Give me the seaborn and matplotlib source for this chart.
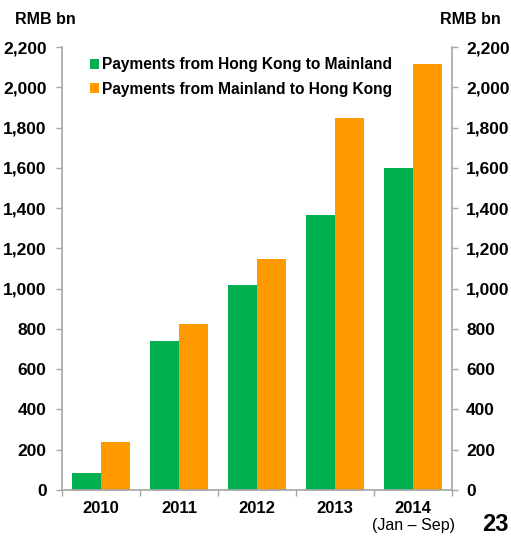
import matplotlib
matplotlib.use("Agg")
import matplotlib.pyplot as plt
import matplotlib.ticker as mticker
from matplotlib.patches import Patch
from matplotlib.transforms import blended_transform_factory
import seaborn as sns
import pandas as pd
import numpy as np

years = ["2010", "2011", "2012", "2013", "2014"]
hk_to_ml = [85, 740, 1020, 1365, 1600]
ml_to_hk = [240, 825, 1145, 1850, 2115]
series = ["Payments from Hong Kong to Mainland", "Payments from Mainland to Hong Kong"]
colors = ["#00B050", "#FF9900"]
yticks = list(range(0, 2201, 200))

df = pd.DataFrame({
    "year": years * 2,
    "value": hk_to_ml + ml_to_hk,
    "series": [series[0]] * len(years) + [series[1]] * len(years),
})

sns.set_theme(style="white")
plt.rcParams["font.family"] = ["Liberation Sans", "DejaVu Sans"]
plt.rcParams["text.color"] = "black"
plt.rcParams["xtick.labelcolor"] = "black"
plt.rcParams["ytick.labelcolor"] = "black"

fig = plt.figure(figsize=(5.11, 5.36), dpi=100)
ax = fig.add_axes([0.121, 0.086, 0.764, 0.826])

sns.barplot(data=df, x="year", y="value", hue="series", palette=colors,
            width=0.74, saturation=1, ax=ax, legend=False, linewidth=0)

gray = "#A6A6A6"
ax.set_ylim(0, 2200)
ax.set_xlim(-0.5, len(years) - 0.5)
ax.set_yticks(yticks)
fmt = mticker.FuncFormatter(lambda v, p: f"{int(v):,}")
ax.yaxis.set_major_formatter(fmt)
ax.set_xlabel("")
ax.set_ylabel("")

for s in ["top", "right"]:
    ax.spines[s].set_visible(False)
for s in ["left", "bottom"]:
    ax.spines[s].set_color(gray)
    ax.spines[s].set_linewidth(1.2)

ax.tick_params(axis="y", which="major", direction="out", length=4, width=1,
               color=gray, labelsize=12.5, pad=7, left=True, labelcolor="black")
ax.tick_params(axis="x", which="major", length=0, pad=8, labelsize=12, labelcolor="black")
ax.set_xticks(np.arange(-0.5, len(years), 1.0), minor=True)
ax.tick_params(axis="x", which="minor", direction="out", length=4, width=1,
               color=gray, bottom=True)
for lbl in ax.get_xticklabels() + ax.get_yticklabels():
    lbl.set_fontweight("bold")

ax2 = ax.twinx()
ax2.set_ylim(0, 2200)
ax2.set_yticks(yticks)
ax2.yaxis.set_major_formatter(fmt)
for s in ["top", "left", "bottom"]:
    ax2.spines[s].set_visible(False)
ax2.spines["right"].set_color(gray)
ax2.spines["right"].set_linewidth(1.2)
ax2.tick_params(axis="y", which="major", direction="out", length=4, width=1,
                color=gray, labelsize=12.5, pad=6, right=True, labelcolor="black")
for lbl in ax2.get_yticklabels():
    lbl.set_fontweight("bold")
ax2.grid(False)
ax.grid(False)

handles = [Patch(facecolor=c, edgecolor="none") for c in colors]
leg = ax.legend(handles, series, loc="upper left", bbox_to_anchor=(0.045, 1.0),
                frameon=False, handlelength=0.6, handleheight=0.6, handletextpad=0.2,
                labelspacing=0.6, borderaxespad=0.25,
                prop={"weight": "bold", "size": 11.2})
for t in leg.get_texts():
    t.set_color("black")

trans = blended_transform_factory(ax.transData, ax.transAxes)
ax.text(4, -0.08, "(Jan \u2013 Sep)", transform=trans, ha="center", va="center",
        fontsize=11.5, color="black")

fig.text(0.029, 0.963, "RMB bn", ha="left", va="center", fontsize=11.5, fontweight="bold")
fig.text(0.98, 0.963, "RMB bn", ha="right", va="center", fontsize=11.5, fontweight="bold")
fig.text(0.995, 0.022, "23", ha="right", va="center", fontsize=17, fontweight="bold")

fig.savefig("out.png", dpi=100)
